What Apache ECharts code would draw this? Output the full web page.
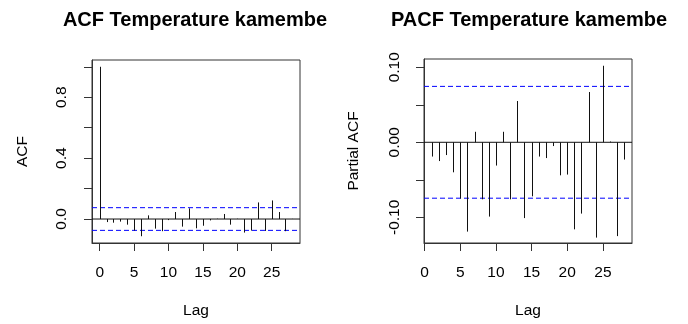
<!DOCTYPE html>
<html>
<head>
<meta charset="utf-8">
<script src="https://cdn.jsdelivr.net/npm/echarts@6/dist/echarts.min.js"></script>
<style>html,body{margin:0;padding:0;background:#fff;}#c{width:688px;height:324px;}</style>
</head>
<body>
<div id="c"></div>
<script>
// ACF lags 0..28
var acfLags = [0,1,2,3,4,5,6,7,8,9,10,11,12,13,14,15,16,17,18,19,20,21,22,23,24,25,26,27,28];
var acfValues = [1.0,-0.020,-0.024,-0.017,-0.037,-0.076,-0.113,0.024,-0.063,-0.080,-0.007,0.046,-0.050,0.070,-0.061,-0.044,-0.009,0.002,0.033,-0.037,0.002,-0.089,-0.076,0.109,-0.078,0.122,0.046,-0.080,0.001];
// PACF lags 1..28
var pacfLags = [1,2,3,4,5,6,7,8,9,10,11,12,13,14,15,16,17,18,19,20,21,22,23,24,25,26,27,28];
var pacfValues = [-0.019,-0.025,-0.017,-0.040,-0.075,-0.119,0.014,-0.076,-0.099,-0.031,0.014,-0.076,0.055,-0.101,-0.072,-0.019,-0.021,-0.005,-0.044,-0.043,-0.116,-0.095,0.067,-0.127,0.102,0.001,-0.125,-0.023];
var confLimit = 0.0745;
var acfTicks = [0, 0.2, 0.4, 0.6, 0.8, 1.0];
var acfTickLabels = [0, 0.4, 0.8];
var pacfTicks = [-0.10, -0.05, 0, 0.05, 0.10];
var pacfTickLabels = [-0.10, 0, 0.10];
var lagTicks = [0, 5, 10, 15, 20, 25];

var FONT = 'Liberation Sans';
var FS = 15.5;
var chart = echarts.init(document.getElementById('c'), null, {renderer: 'canvas'});

function stems(lags, vals, xi, yi) {
  return {
    type: 'custom',
    xAxisIndex: xi, yAxisIndex: yi,
    data: lags.map(function (l, i) { return [l, vals[i]]; }),
    renderItem: function (params, api) {
      var p0 = api.coord([api.value(0), 0]);
      var p1 = api.coord([api.value(0), api.value(1)]);
      var x = Math.round(p0[0]) + 0.5;
      return {
        type: 'line',
        shape: {x1: x, y1: p0[1], x2: x, y2: p1[1]},
        style: {stroke: '#111', lineWidth: 1}
      };
    },
    z: 3
  };
}

function hline(xi, yi, xmin, xmax, y, color, dashed) {
  return {
    type: 'line', xAxisIndex: xi, yAxisIndex: yi,
    data: [[xmin, y], [xmax, y]],
    symbol: 'none', silent: true,
    lineStyle: {color: color, width: 1, type: dashed ? [5, 3] : 'solid'},
    z: 2
  };
}

function xAx(gi, min, max) {
  return {
    type: 'value', gridIndex: gi, min: min, max: max,
    name: 'Lag', nameLocation: 'middle', nameGap: 60,
    nameTextStyle: {fontFamily: FONT, fontSize: FS, color: '#000'},
    splitLine: {show: false},
    axisLine: {show: true, onZero: false, lineStyle: {color: '#333'}},
    axisTick: {show: true, inside: false, length: 8, customValues: lagTicks, lineStyle: {color: '#333'}},
    axisLabel: {customValues: lagTicks, margin: 22, fontFamily: FONT, fontSize: FS, color: '#000',
      formatter: function (v) { return String(v); }}
  };
}

function yAx(gi, min, max, ticks, labels, dec, name, gap, margin) {
  return {
    type: 'value', gridIndex: gi, min: min, max: max,
    name: name, nameLocation: 'middle', nameGap: gap, nameRotate: 90,
    nameTextStyle: {fontFamily: FONT, fontSize: FS, color: '#000'},
    splitLine: {show: false},
    axisLine: {show: true, onZero: false, lineStyle: {color: '#333'}},
    axisTick: {show: true, inside: false, length: 8, customValues: ticks, lineStyle: {color: '#333'}},
    axisLabel: {customValues: labels, rotate: 90, margin: margin, fontFamily: FONT, fontSize: FS, color: '#000',
      formatter: function (v) { return Math.abs(v) < 1e-9 ? (0).toFixed(dec) : v.toFixed(dec); }}
  };
}

var ax0 = [-1.12, 29.12], ax1 = [-0.08, 29.08];

chart.setOption({
  animation: false,
  backgroundColor: '#fff',
  title: [
    {text: 'ACF Temperature kamembe', left: 190, top: 5, textAlign: 'center',
      textStyle: {fontFamily: FONT, fontSize: 20, fontWeight: 'bold', color: '#000'}},
    {text: 'PACF Temperature kamembe', left: 524, top: 5, textAlign: 'center',
      textStyle: {fontFamily: FONT, fontSize: 20, fontWeight: 'bold', color: '#000'}}
  ],
  grid: [
    {left: 92, top: 60, width: 208, height: 184, show: true, borderColor: '#333', borderWidth: 1, backgroundColor: 'transparent'},
    {left: 424, top: 59, width: 208, height: 185, show: true, borderColor: '#333', borderWidth: 1, backgroundColor: 'transparent'}
  ],
  xAxis: [xAx(0, ax0[0], ax0[1]), xAx(1, ax1[0], ax1[1])],
  yAxis: [
    yAx(0, -0.1575, 1.0445, acfTicks, acfTickLabels, 1, 'ACF', 61, 22),
    yAx(1, -0.1342, 0.111, pacfTicks, pacfTickLabels, 2, 'Partial ACF', 62, 21)
  ],
  series: [
    hline(0, 0, ax0[0], ax0[1], 0, '#111', false),
    hline(0, 0, ax0[0], ax0[1], confLimit, '#0000ff', true),
    hline(0, 0, ax0[0], ax0[1], -confLimit, '#0000ff', true),
    stems(acfLags, acfValues, 0, 0),
    hline(1, 1, ax1[0], ax1[1], 0, '#111', false),
    hline(1, 1, ax1[0], ax1[1], confLimit, '#0000ff', true),
    hline(1, 1, ax1[0], ax1[1], -confLimit, '#0000ff', true),
    stems(pacfLags, pacfValues, 1, 1)
  ]
});
</script>
</body>
</html>
